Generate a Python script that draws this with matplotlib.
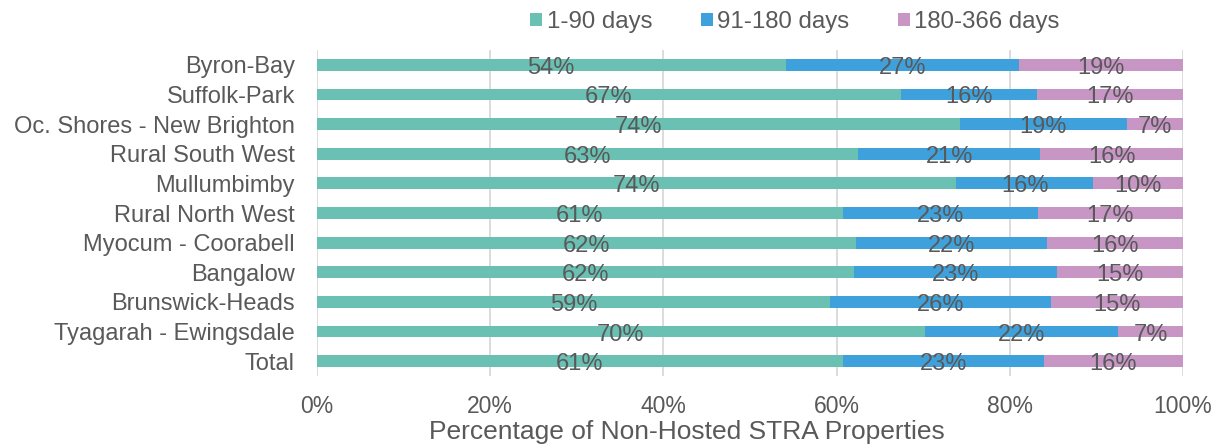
import matplotlib
matplotlib.use("Agg")
import matplotlib.pyplot as plt
import numpy as np

plt.rcParams['font.family'] = ['Liberation Sans', 'DejaVu Sans']

categories = ["Byron-Bay", "Suffolk-Park", "Oc. Shores - New Brighton", "Rural South West",
              "Mullumbimby", "Rural North West", "Myocum - Coorabell", "Bangalow",
              "Brunswick-Heads", "Tyagarah - Ewingsdale", "Total"]
days_1_90 = [54.1, 67.4, 74.2, 62.5, 73.8, 60.7, 62.2, 62.0, 59.2, 70.2, 60.7]
days_91_180 = [27.0, 15.7, 19.3, 21.0, 15.8, 22.5, 22.1, 23.4, 25.6, 22.3, 23.2]
days_180_366 = [18.9, 16.9, 6.5, 16.5, 10.4, 16.8, 15.7, 14.6, 15.2, 7.5, 16.1]
labels_1_90 = ["54%", "67%", "74%", "63%", "74%", "61%", "62%", "62%", "59%", "70%", "61%"]
labels_91_180 = ["27%", "16%", "19%", "21%", "16%", "23%", "22%", "23%", "26%", "22%", "23%"]
labels_180_366 = ["19%", "17%", "7%", "16%", "10%", "17%", "16%", "15%", "15%", "7%", "16%"]
series_names = ["1-90 days", "91-180 days", "180-366 days"]
xticks = [0, 20, 40, 60, 80, 100]
xlabel = "Percentage of Non-Hosted STRA Properties"

colors = ["#6AC1B3", "#3FA1DC", "#C796C5"]
text_color = "#595959"

fig = plt.figure(figsize=(12.14, 4.44), dpi=100)
ax = fig.add_axes([317/1214, 1 - 376/444, 866/1214, (376 - 50)/444])

y = np.arange(len(categories))
left = np.zeros(len(categories))
for vals, labs, col, name in zip([days_1_90, days_91_180, days_180_366],
                                 [labels_1_90, labels_91_180, labels_180_366],
                                 colors, series_names):
    vals = np.array(vals)
    ax.barh(y, vals, left=left, height=0.4, color=col, label=name, zorder=2)
    for yi, l, v, t in zip(y, left, vals, labs):
        ax.text(l + v / 2, yi + 0.1, t, ha='center', va='center',
                fontsize=17, color=text_color, zorder=3)
    left = left + vals

ax.set_ylim(len(categories) - 0.5, -0.5)
ax.set_xlim(0, 100)
ax.set_yticks(y)
ax.set_yticklabels(categories, fontsize=17, color=text_color)
ax.set_xticks(xticks)
ax.set_xticklabels([f"{t}%" for t in xticks], fontsize=16.5, color=text_color)
ax.tick_params(axis='y', length=0, pad=16)
ax.tick_params(axis='x', length=0, pad=14)
ax.set_xlabel(xlabel, fontsize=19, color=text_color)
ax.xaxis.set_label_coords((687 - 317) / 866, -(432 - 376) / 326, transform=ax.transAxes)
ax.xaxis.label.set_va('center')
ax.grid(axis='x', color='#D9D9D9', linewidth=1.3, zorder=0)
ax.set_axisbelow(True)
for s in ax.spines.values():
    s.set_visible(False)

fig.legend(loc='center', bbox_to_anchor=(795/1214, 1 - 22/444), ncol=3, frameon=False,
           fontsize=17.3, handlelength=0.5, handleheight=0.5, handletextpad=0.2,
           columnspacing=2.0, labelcolor=text_color)

fig.savefig("out.png", dpi=100)
